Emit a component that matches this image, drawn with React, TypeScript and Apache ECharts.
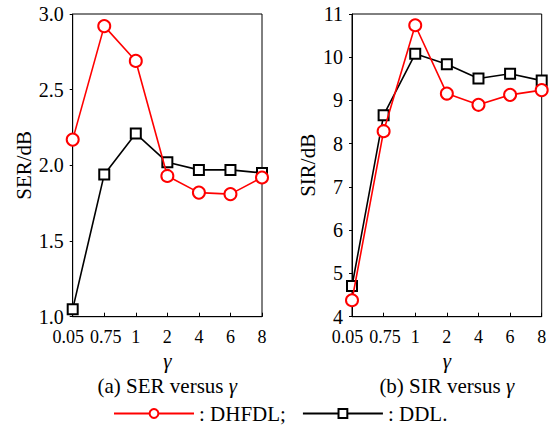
import React, { useEffect, useRef } from "react";
import * as echarts from "echarts";

const categories = ["0.05", "0.75", "1", "2", "4", "6", "8"];
const serDHFDL = [2.17, 2.92, 2.69, 1.93, 1.82, 1.81, 1.92];
const serDDL = [1.05, 1.94, 2.21, 2.02, 1.97, 1.97, 1.95];
const sirDHFDL = [4.38, 8.29, 10.74, 9.16, 8.9, 9.13, 9.24];
const sirDDL = [4.71, 8.66, 10.08, 9.84, 9.51, 9.62, 9.46];

const FONT = "Liberation Serif";

export default function App() {
  const ref = useRef<HTMLDivElement>(null);
  useEffect(() => {
    if (!ref.current) return;
    const chart = echarts.init(ref.current, undefined, { renderer: "svg" });
    const bigText = { fontFamily: FONT, fontSize: 21, color: "#000" };
    const xRich = {
      a: { fontFamily: FONT, fontSize: 18, color: "#000", padding: [0, 9, 0, 0] },
      b: { fontFamily: FONT, fontSize: 18, color: "#000", padding: [0, 0, 0, 3] },
      n: { fontFamily: FONT, fontSize: 18, color: "#000" },
    };
    const xAxisBase = (gridIndex: number) => ({
      type: "category" as const,
      gridIndex,
      data: categories,
      boundaryGap: false,
      axisLine: { lineStyle: { color: "#000", width: 1 } },
      axisTick: { inside: true, length: 4, interval: 0, lineStyle: { color: "#000" } },
      axisLabel: {
        fontFamily: FONT,
        fontSize: 18,
        color: "#000",
        margin: 11,
        interval: 0,
        formatter: (v: string, i: number) => (i === 0 ? `{a|${v}}` : i === 1 ? `{b|${v}}` : `{n|${v}}`),
        rich: xRich,
      },
      name: "γ",
      nameLocation: "middle" as const,
      nameGap: 30,
      nameTextStyle: { ...bigText, fontStyle: "italic" },
      splitLine: { show: false },
    });
    const yAxisBase = (gridIndex: number, min: number, max: number, interval: number, name: string, nameGap: number, digits: number) => ({
      type: "value" as const,
      gridIndex,
      min,
      max,
      interval,
      name,
      nameLocation: "middle" as const,
      nameGap,
      nameTextStyle: bigText,
      axisLine: { show: true, lineStyle: { color: "#000", width: 1 } },
      axisTick: { show: true, length: 3, lineStyle: { color: "#000" } },
      axisLabel: {
        fontFamily: FONT,
        fontSize: 20,
        color: "#000",
        margin: 9,
        formatter: (v: number) => `{t|${v.toFixed(digits)}}`,
        rich: { t: { fontFamily: FONT, fontSize: 20, color: "#000" } },
      },
      splitLine: { show: false },
    });
    const lineSeries = (name: string, data: number[], idx: number, red: boolean) => ({
      type: "line" as const,
      name,
      xAxisIndex: idx,
      yAxisIndex: idx,
      data,
      clip: false,
      symbol: red ? "emptyCircle" : "emptyRect",
      symbolSize: red ? 12 : 10,
      lineStyle: { color: red ? "#ff0000" : "#000", width: 1.6 },
      itemStyle: { color: red ? "#ff0000" : "#000", borderWidth: 1.6 },
      z: red ? 3 : 2,
    });
    const rich = { g: { fontStyle: "italic", fontFamily: FONT, fontSize: 21, fill: "#000" } };
    chart.setOption({
      animation: false,
      textStyle: { fontFamily: FONT },
      grid: [
        { left: 72.7, right: 290, top: 14, bottom: 109.3, show: true, borderColor: "#000", borderWidth: 1 },
        { left: 352, right: 10.3, top: 14, bottom: 109.3, show: true, borderColor: "#000", borderWidth: 1 },
      ],
      xAxis: [xAxisBase(0), xAxisBase(1)],
      yAxis: [
        yAxisBase(0, 1, 3, 0.5, "SER/dB", 38, 1),
        yAxisBase(1, 4, 11, 1, "SIR/dB", 34, 0),
      ],
      legend: {
        left: 108,
        top: 400,
        padding: [3, 5, 3, 5],
        data: ["DHFDL", "DDL"],
        itemWidth: 80,
        itemHeight: 11,
        itemGap: 16,
        formatter: (n: string) => (n === "DHFDL" ? "{l|: DHFDL;}" : "{l|: DDL.}"),
        textStyle: { fontFamily: FONT, fontSize: 21, color: "#000", rich: { l: { fontFamily: FONT, fontSize: 21, color: "#000" } } },
      },
      series: [
        lineSeries("DDL", serDDL, 0, false),
        lineSeries("DHFDL", serDHFDL, 0, true),
        lineSeries("DDL", sirDDL, 1, false),
        lineSeries("DHFDL", sirDHFDL, 1, true),
      ],
      graphic: [
        {
          type: "text",
          x: 167.3,
          y: 385.5,
          style: {
            text: "(a) SER versus {g|γ}",
            align: "center",
            verticalAlign: "middle",
            fontFamily: FONT,
            fontSize: 21,
            fill: "#000",
            rich,
          },
        },
        {
          type: "text",
          x: 446.8,
          y: 385.5,
          style: {
            text: "(b) SIR versus {g|γ}",
            align: "center",
            verticalAlign: "middle",
            fontFamily: FONT,
            fontSize: 21,
            fill: "#000",
            rich,
          },
        },
      ],
    });
    return () => chart.dispose();
  }, []);
  return (
    <div
      ref={ref}
      style={{ position: "fixed", left: 0, top: 0, width: 552, height: 426, background: "#fff" }}
    />
  );
}
